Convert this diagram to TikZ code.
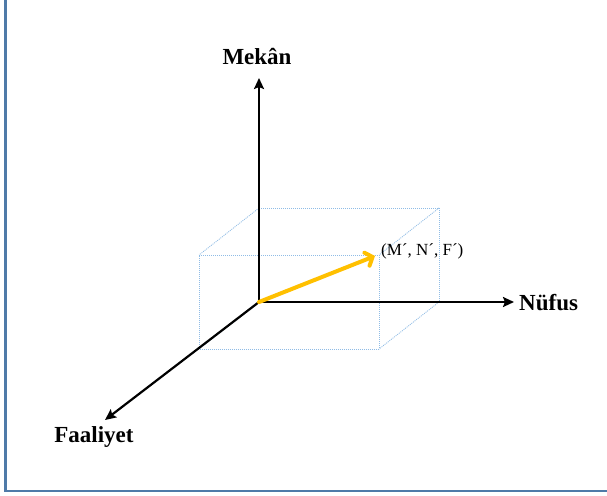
\documentclass[tikz,border=0pt]{standalone}
\usepackage{fontspec}
\setmainfont{Liberation Serif}
\usetikzlibrary{arrows.meta}
\definecolor{framec}{HTML}{4F7AA8}
\definecolor{boxc}{HTML}{8FBCE6}
\definecolor{vecc}{HTML}{FFC000}
\tikzset{
  axis/.style={line width=2.2pt, black, -{Stealth[length=11pt,width=10pt,inset=2pt]}},
  boxline/.style={boxc, line width=0.8pt, dash pattern=on 1pt off 1pt},
  vec/.style={vecc, line width=4pt, line cap=round, -{Straight Barb[length=6pt,width=14pt,line cap=round]}},
  biglab/.style={font=\fontsize{23}{25}\selectfont\bfseries, inner sep=0pt},
  smalllab/.style={font=\fontsize{17}{19}\selectfont, inner sep=0pt}
}
\begin{document}
\begin{tikzpicture}[x=1pt,y=-1pt]
\useasboundingbox (0,0) rectangle (607,495);
\fill[white] (0,0) rectangle (607,495);
% frame
\draw[framec, line width=2.2pt] (5.5,0) -- (5.5,491) -- (607,491);
% coordinates
\coordinate (O) at (259,302);
\coordinate (Mtip) at (259,78);
\coordinate (Ntip) at (514,302);
\coordinate (Ftip) at (105,420);
\coordinate (B1) at (259,208);
\coordinate (B2) at (439,208);
\coordinate (B3) at (439,302);
\coordinate (F0) at (199,349);
\coordinate (F1) at (199,255);
\coordinate (F2) at (379,255);
\coordinate (F3) at (379,349);
\coordinate (V) at (375,256);
% box
\draw[boxline] (O) -- (B1) -- (B2) -- (B3) -- cycle;
\draw[boxline] (F0) -- (F1) -- (F2) -- (F3) -- cycle;
\draw[boxline] (O) -- (F0);
\draw[boxline] (B1) -- (F1);
\draw[boxline] (B2) -- (F2);
\draw[boxline] (B3) -- (F3);
% axes
\draw[axis] (O) -- (Mtip);
\draw[axis] (O) -- (Ntip);
\draw[axis] (O) -- (Ftip);
% vector
\draw[vec] (O) -- (V);
% labels
\node[biglab] (mekan) at (257,57) {Mekân};
\node[biglab, anchor=west] (nufus) at (519,303) {Nüfus};
\node[biglab] (faaliyet) at (94,437) {Faaliyet};
\node[smalllab, anchor=west] (pt) at (381,251) {(M´, N´, F´)};
\end{tikzpicture}
\end{document}
